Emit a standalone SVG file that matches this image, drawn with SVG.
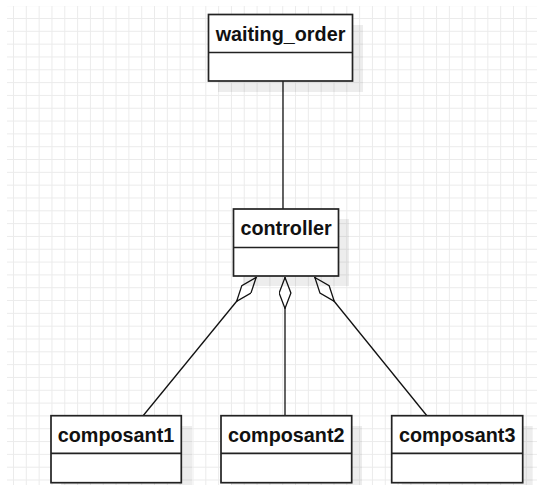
<svg xmlns="http://www.w3.org/2000/svg" width="537" height="485" viewBox="0 0 537 485">
  <style>
    .box { fill: #ffffff; stroke: #222222; stroke-width: 1.7; }
    .div { stroke: #222222; stroke-width: 1.7; fill: none; }
    .shadow { fill: #000000; fill-opacity: 0.07; }
    .label { font-family: "Liberation Sans", Arial, Helvetica, sans-serif; font-weight: bold; font-size: 19.8px; fill: #111111; text-anchor: middle; }
    .edge { stroke: #111111; stroke-width: 1.3; fill: none; }
  </style>
  <defs>
    <pattern id="grid" patternUnits="userSpaceOnUse" x="13" y="18" width="12.82" height="12.82">
      <path d="M0.5 0 V12.82 M0 0.5 H12.82" stroke="#ebebeb" stroke-width="1" fill="none"/>
    </pattern>
    <marker id="diamond" viewBox="0 0 32 13" refX="0" refY="6.5" markerWidth="32" markerHeight="13" markerUnits="userSpaceOnUse" orient="auto">
      <path d="M0.6 6.5 L16 0.6 L31.4 6.5 L16 12.4 Z" fill="#ffffff" stroke="#111111" stroke-width="1.3"/>
    </marker>
  </defs>
  <rect x="0" y="0" width="537" height="485" fill="#ffffff"/>
  <rect x="7" y="6" width="530" height="479" fill="url(#grid)"/>

  <g id="connectors">
    <line class="edge" x1="283" y1="81" x2="283" y2="209"/>
    <line class="edge" x1="256.5" y1="277" x2="143.3" y2="415.5" marker-start="url(#diamond)"/>
    <line class="edge" x1="285" y1="277" x2="285" y2="415.5" marker-start="url(#diamond)"/>
    <line class="edge" x1="314.5" y1="277" x2="426.7" y2="415.5" marker-start="url(#diamond)"/>
  </g>

  <g id="waiting_order">
    <rect class="shadow" x="218" y="25" width="145" height="67"/>
    <rect class="box" x="208.5" y="14.5" width="144" height="66.5"/>
    <line class="div" x1="208.5" y1="52.5" x2="352.5" y2="52.5"/>
    <text class="label" x="280.5" y="40.8">waiting_order</text>
  </g>

  <g id="controller">
    <rect class="shadow" x="243" y="219" width="106" height="67"/>
    <rect class="box" x="233.5" y="209" width="105" height="67"/>
    <line class="div" x1="233.5" y1="247.5" x2="338.5" y2="247.5"/>
    <text class="label" x="286" y="235.3">controller</text>
  </g>

  <g id="composant1">
    <rect class="shadow" x="61" y="426" width="131" height="59"/>
    <rect class="box" x="51" y="415.7" width="130.3" height="67"/>
    <line class="div" x1="51" y1="453.3" x2="181.3" y2="453.3"/>
    <text class="label" x="116" y="441.8">composant1</text>
  </g>

  <g id="composant2">
    <rect class="shadow" x="231" y="426" width="131" height="59"/>
    <rect class="box" x="221" y="415.7" width="130.7" height="67"/>
    <line class="div" x1="221" y1="453.3" x2="351.7" y2="453.3"/>
    <text class="label" x="286.3" y="441.8">composant2</text>
  </g>

  <g id="composant3">
    <rect class="shadow" x="401.7" y="426" width="131" height="59"/>
    <rect class="box" x="391.7" y="415.7" width="131" height="67"/>
    <line class="div" x1="391.7" y1="453.3" x2="522.7" y2="453.3"/>
    <text class="label" x="457.2" y="441.8">composant3</text>
  </g>
</svg>
